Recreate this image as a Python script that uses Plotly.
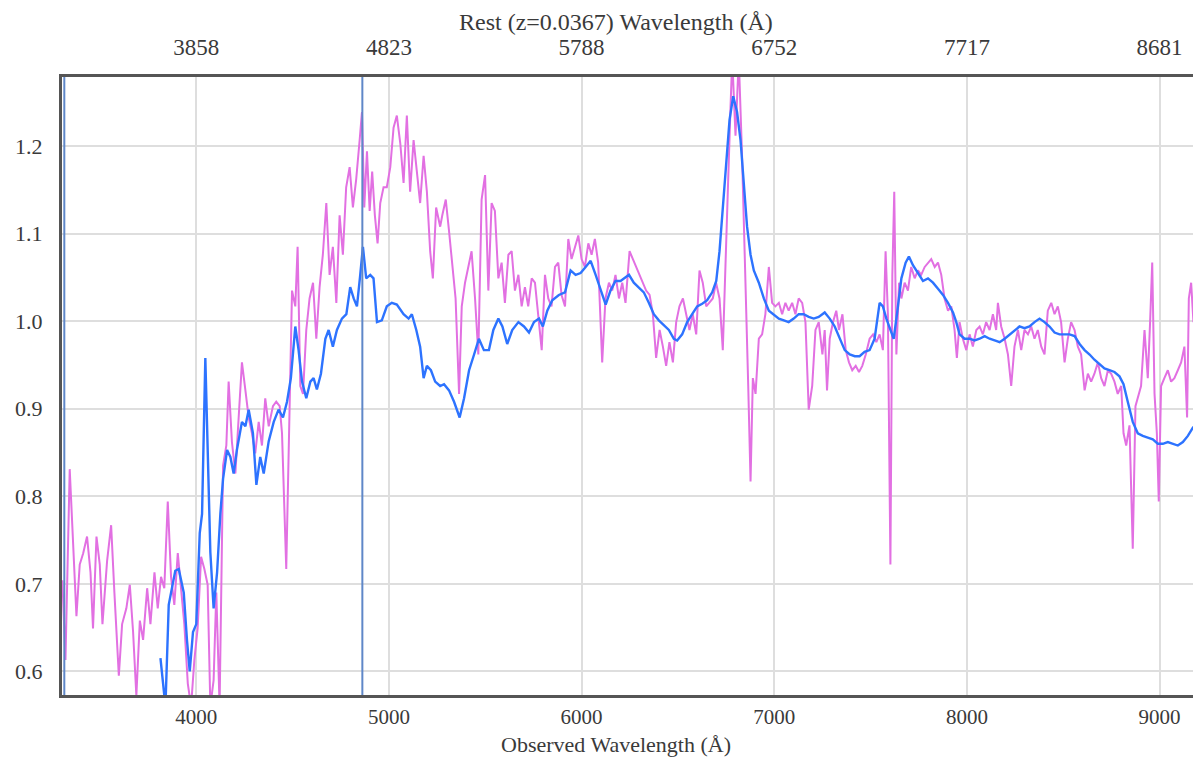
import plotly.graph_objects as go

# ---------------- data ----------------
redshift = 0.0367

obs_wave = [3305, 3321, 3343, 3361, 3378, 3395, 3413, 3433, 3451, 3464, 3482, 3499, 3513, 3537, 3558, 3575, 3598, 3615, 3637, 3655,
            3672, 3689, 3707, 3724, 3745, 3762, 3783, 3800, 3817, 3834, 3852, 3869, 3886, 3904, 3921, 3938, 3956, 3973, 3990, 4007,
            4025, 4042, 4059, 4073, 4090, 4104, 4121, 4139, 4156, 4168, 4185, 4203, 4220, 4237, 4255, 4272, 4289, 4306, 4324, 4341,
            4358, 4376, 4398, 4415, 4433, 4445, 4467, 4485, 4497, 4514, 4526, 4540, 4554, 4571, 4588, 4606, 4623, 4640, 4657, 4675,
            4692, 4709, 4727, 4744, 4761, 4778, 4796, 4813, 4830, 4848, 4860, 4872, 4886, 4900, 4913, 4927, 4941, 4955, 4972, 4989,
            5007, 5024, 5041, 5059, 5076, 5093, 5110, 5128, 5145, 5162, 5180, 5197, 5214, 5228, 5245, 5266,
            5277, 5295, 5312, 5329, 5346, 5364, 5378, 5395, 5412, 5429, 5447, 5464, 5481, 5499, 5516, 5533, 5550, 5568, 5585, 5602,
            5620, 5637, 5654, 5672, 5689, 5706, 5723, 5741, 5758, 5775, 5793, 5810, 5827, 5844, 5862, 5879, 5896, 5914, 5931, 5948,
            5965, 5983, 6000, 6017, 6035, 6052, 6069, 6086, 6107, 6124, 6142, 6159, 6176, 6194, 6211, 6228, 6249, 6266, 6284, 6301,
            6318, 6335, 6353, 6370, 6387, 6405, 6422, 6439, 6456, 6474, 6491, 6508, 6526, 6543, 6560, 6577, 6595, 6612, 6629, 6647,
            6664, 6681, 6698, 6716, 6733, 6747, 6761, 6773, 6782, 6799, 6816, 6833, 6851, 6865, 6877, 6889, 6903, 6920, 6937, 6954,
            6972, 6989, 7006, 7024, 7041, 7058, 7075, 7093, 7110, 7127, 7145, 7162, 7179, 7197, 7214, 7231,
            7250, 7262, 7274, 7288, 7305, 7322, 7336, 7354, 7371, 7388, 7405, 7423, 7440, 7457, 7475, 7495, 7513, 7530, 7547, 7564,
            7578, 7590, 7603, 7613, 7623, 7634, 7648, 7660, 7677, 7694, 7711, 7729, 7746, 7763, 7781, 7798, 7815, 7833, 7850, 7867,
            7884, 7902, 7919, 7936, 7948, 7962, 7979, 7997, 8014, 8031, 8049, 8066, 8083, 8100, 8118, 8135, 8152, 8161, 8178, 8196,
            8213, 8230, 8247, 8265, 8282, 8299, 8317, 8334, 8351, 8368, 8386, 8403, 8420, 8438, 8455, 8472, 8489, 8507, 8524, 8541,
            8559, 8576, 8593, 8611, 8628, 8645, 8662, 8680, 8697, 8714, 8732, 8749, 8766, 8783, 8801, 8813, 8827, 8844, 8861, 8875,
            8887, 8904, 8922, 8939, 8951, 8962, 8974, 8986, 8996, 9008, 9025, 9043, 9060, 9077, 9095, 9112, 9129, 9143, 9152, 9164,
            9176, 9190, 9207]

obs_flux = [0.704, 0.613, 0.831, 0.749, 0.663, 0.722, 0.735, 0.754, 0.713, 0.649, 0.754, 0.722, 0.654, 0.726, 0.767, 0.690, 0.595, 0.654, 0.672, 0.699,
            0.645, 0.572, 0.658, 0.636, 0.695, 0.654, 0.713, 0.672, 0.708, 0.695, 0.794, 0.708, 0.676, 0.735, 0.695, 0.654, 0.586, 0.560, 0.613, 0.649,
            0.731, 0.717, 0.699, 0.560, 0.590, 0.690, 0.560, 0.835, 0.858, 0.931, 0.862, 0.826, 0.890, 0.953, 0.921, 0.890, 0.872, 0.849, 0.885, 0.858,
            0.912, 0.880, 0.903, 0.908, 0.903, 0.872, 0.717, 0.894, 1.035, 1.017, 1.085, 0.926, 0.917, 0.990, 1.026, 1.044, 0.980, 1.039, 1.076, 1.135,
            1.053, 1.085, 1.021, 1.121, 1.076, 1.153, 1.176, 1.130, 1.162, 1.207, 1.239, 1.130, 1.194, 1.126, 1.171, 1.121, 1.089, 1.135, 1.153, 1.153,
            1.176, 1.221, 1.235, 1.203, 1.158, 1.235, 1.148, 1.207, 1.167, 1.135, 1.189, 1.148, 1.080, 1.049, 1.130, 1.108,
            1.121, 1.139, 1.103, 1.062, 1.026, 0.917, 1.017, 1.044, 1.062, 1.080, 1.026, 0.962, 1.139, 1.167, 1.035, 1.135, 1.126, 1.049, 1.067, 1.021,
            1.076, 1.080, 1.035, 1.053, 1.017, 1.039, 1.017, 1.049, 1.044, 1.008, 0.967, 1.053, 1.026, 1.017, 1.062, 1.067, 1.030, 1.017, 1.094, 1.071,
            1.085, 1.098, 1.071, 1.062, 1.089, 1.076, 1.094, 1.067, 0.953, 1.026, 1.044, 1.035, 1.053, 1.026, 1.044, 1.021, 1.080, 1.071, 1.062, 1.053,
            1.044, 1.035, 1.030, 1.008, 0.958, 0.990, 0.971, 0.949, 0.976, 0.953, 0.999, 1.017, 1.026, 1.008, 0.990, 1.008, 0.985, 1.058, 1.044, 1.017,
            1.021, 1.026, 1.044, 1.026, 0.967, 1.080, 1.162, 1.244, 1.300, 1.212, 1.300, 1.189, 1.053, 0.926, 0.817, 0.935, 0.917, 0.980, 0.985, 1.008,
            1.062, 1.021, 1.017, 1.021, 1.008, 1.021, 1.012, 1.021, 1.008, 1.026, 1.021, 0.999, 0.899, 0.926, 0.990, 0.999,
            0.962, 0.990, 0.921, 0.980, 0.999, 1.012, 0.990, 1.008, 0.967, 0.953, 0.944, 0.949, 0.942, 0.949, 0.962, 0.980, 0.985, 0.976, 0.985, 0.967,
            1.080, 1.008, 0.722, 1.053, 1.148, 0.962, 1.044, 1.026, 1.044, 1.035, 1.062, 1.049, 1.058, 1.053, 1.062, 1.067, 1.071, 1.062, 1.067, 1.053,
            1.026, 1.012, 1.017, 0.990, 0.958, 0.999, 0.980, 0.967, 0.985, 0.971, 0.990, 0.994, 0.985, 0.999, 0.990, 1.008, 0.990, 1.021, 0.994, 0.980,
            0.962, 0.926, 0.971, 0.990, 0.967, 0.990, 0.985, 0.994, 0.980, 0.990, 0.971, 0.962, 1.012, 1.021, 1.008, 1.017, 0.999, 0.953, 0.980, 0.999,
            0.990, 0.971, 0.962, 0.921, 0.940, 0.931, 0.940, 0.953, 0.935, 0.926, 0.944, 0.940, 0.931, 0.917, 0.926, 0.872, 0.858, 0.881, 0.740, 0.903,
            0.912, 0.926, 0.990, 0.935, 0.999, 1.067, 0.917, 0.872, 0.794, 0.926, 0.935, 0.944, 0.931, 0.935, 0.944, 0.953, 0.971, 0.890, 1.026, 1.044,
            0.999, 1.026, 0.990]

model_wave = [3814, 3840, 3857, 3891, 3909, 3935, 3952, 3966, 3983, 4000, 4018, 4030, 4047, 4056, 4073, 4090, 4108, 4125, 4139, 4160,
              4177, 4194, 4211, 4237, 4255, 4272, 4294, 4312, 4332, 4350, 4376, 4402, 4427, 4450, 4471, 4491, 4514, 4531, 4549, 4571,
              4592, 4609, 4626, 4647, 4670, 4687, 4709, 4730, 4756, 4779, 4799, 4817, 4834, 4851, 4865, 4882, 4903, 4920, 4938, 4963,
              4989, 5015, 5041, 5076, 5102, 5119, 5142, 5162, 5180, 5197, 5218, 5240, 5266,
              5286, 5312, 5338, 5367, 5390, 5416, 5442, 5467, 5493, 5519, 5542, 5568, 5589, 5614, 5640, 5672, 5701, 5727, 5753, 5779,
              5799, 5822, 5848, 5882, 5914, 5943, 5969, 5995, 6021, 6047, 6073, 6099, 6125, 6150, 6176, 6202, 6220, 6246, 6271, 6297,
              6323, 6349, 6375, 6401, 6427, 6453, 6479, 6496, 6522, 6548, 6574, 6600, 6626, 6652, 6678, 6699, 6716, 6733, 6750, 6768,
              6787, 6807, 6825, 6842, 6859, 6877, 6894, 6920, 6946, 6972, 6998, 7024, 7050, 7075, 7101, 7127, 7153, 7179, 7205, 7231,
              7262, 7288, 7314, 7340, 7366, 7392, 7418, 7443, 7469, 7495, 7521, 7547, 7564, 7582, 7603, 7620, 7637, 7660, 7682, 7699,
              7720, 7746, 7772, 7798, 7824, 7850, 7876, 7902, 7928, 7945, 7962, 7988, 8014, 8040, 8066, 8092, 8118, 8144, 8170, 8196,
              8222, 8247, 8273, 8299, 8325, 8351, 8377, 8403, 8429, 8455, 8481, 8507, 8533, 8559, 8585, 8611, 8637, 8662, 8688, 8714,
              8740, 8766, 8792, 8813, 8835, 8861, 8887, 8913, 8939, 8965, 8991, 9017, 9043, 9069, 9095, 9121, 9147, 9172, 9207]

model_flux = [0.615, 0.560, 0.676, 0.715, 0.717, 0.690, 0.635, 0.600, 0.645, 0.654, 0.758, 0.780, 0.958, 0.870, 0.736, 0.672, 0.713, 0.780, 0.820, 0.853,
              0.845, 0.826, 0.853, 0.885, 0.880, 0.899, 0.872, 0.813, 0.845, 0.826, 0.863, 0.885, 0.899, 0.890, 0.908, 0.935, 0.994, 0.967, 0.931, 0.912,
              0.931, 0.935, 0.922, 0.940, 0.980, 0.990, 0.971, 0.990, 1.003, 1.008, 1.039, 1.026, 1.017, 1.053, 1.085, 1.049, 1.053, 1.049, 0.999, 1.001,
              1.017, 1.021, 1.019, 1.008, 1.003, 1.008, 0.990, 0.971, 0.935, 0.949, 0.944, 0.931, 0.926,
              0.928, 0.921, 0.908, 0.890, 0.912, 0.944, 0.962, 0.980, 0.967, 0.967, 0.990, 1.003, 0.994, 0.974, 0.990, 0.999, 0.994, 0.987, 0.999, 1.003,
              0.994, 1.012, 1.024, 1.030, 1.033, 1.058, 1.053, 1.055, 1.062, 1.069, 1.053, 1.035, 1.019, 1.035, 1.046, 1.046, 1.049, 1.053, 1.044, 1.039,
              1.033, 1.021, 1.008, 1.001, 0.996, 0.990, 0.980, 0.978, 0.985, 0.999, 1.008, 1.017, 1.020, 1.024, 1.033, 1.046, 1.080, 1.126, 1.180, 1.230,
              1.257, 1.239, 1.207, 1.153, 1.108, 1.076, 1.058, 1.044, 1.026, 1.012, 1.008, 1.003, 1.001, 0.999, 1.003, 1.008, 1.008, 1.005, 1.003, 1.005,
              1.010, 1.003, 0.994, 0.980, 0.967, 0.962, 0.960, 0.960, 0.965, 0.967, 0.980, 1.021, 1.017, 1.003, 0.990, 0.980, 1.008, 1.049, 1.067, 1.074,
              1.064, 1.055, 1.046, 1.049, 1.044, 1.037, 1.030, 1.021, 1.010, 0.999, 0.985, 0.980, 0.980, 0.978, 0.980, 0.983, 0.980, 0.978, 0.976, 0.980,
              0.985, 0.990, 0.994, 0.992, 0.994, 0.999, 1.003, 0.999, 0.994, 0.987, 0.985, 0.985, 0.985, 0.983, 0.974, 0.967, 0.962, 0.956, 0.951, 0.946,
              0.944, 0.942, 0.937, 0.928, 0.908, 0.885, 0.872, 0.869, 0.867, 0.865, 0.860, 0.860, 0.862, 0.860, 0.858, 0.862, 0.869, 0.878, 0.887]

marker_waves = [3315, 4862]

obs_ticks = [4000, 5000, 6000, 7000, 8000, 9000]
rest_tick_labels = [f"{t / (1 + redshift):.0f}" for t in obs_ticks]
y_ticks = [0.6, 0.7, 0.8, 0.9, 1.0, 1.1, 1.2]

x_range = [3303, 9210]
y_range = [0.573, 1.279]

top_title = "Rest (z=0.0367) Wavelength (Å)"
bottom_title = "Observed Wavelength (Å)"

# ---------------- figure ----------------
FONT = "Liberation Serif"
TXT = "#3a3a3a"
TICK_SIZE = 22
XTICK_SIZE = 21
TITLE_SIZE = 23
fig = go.Figure()

fig.add_trace(go.Scatter(x=obs_wave, y=obs_flux, mode="lines",
                         line=dict(color="rgb(226,112,226)", width=2), showlegend=False))
fig.add_trace(go.Scatter(x=model_wave, y=model_flux, mode="lines",
                         line=dict(color="rgb(45,115,255)", width=2.4), showlegend=False))
# invisible trace to activate top axis
fig.add_trace(go.Scatter(x=x_range, y=[None, None], xaxis="x2", mode="lines", showlegend=False))

for w in marker_waves:
    fig.add_shape(type="line", x0=w, x1=w, y0=0, y1=1, xref="x", yref="paper",
                  line=dict(color="rgb(95,135,200)", width=2))

def axis_style(size=TICK_SIZE, **kw):
    d = dict(showgrid=True, gridcolor="rgb(222,222,222)", gridwidth=1.5, zeroline=False,
             showline=True, linecolor="rgb(85,85,85)", linewidth=3, automargin=False,
             tickfont=dict(family=FONT, size=size, color=TXT), ticks="")
    d.update(kw)
    return d

fig.add_annotation(text=top_title, xref="paper", yref="paper", x=0.487, y=1.089,
                   xanchor="center", yanchor="middle", showarrow=False,
                   font=dict(family=FONT, size=TITLE_SIZE + 1, color=TXT))
fig.add_annotation(text=bottom_title, xref="paper", yref="paper", x=0.487, y=-0.080,
                   xanchor="center", yanchor="middle", showarrow=False,
                   font=dict(family=FONT, size=TITLE_SIZE - 1, color=TXT))

# page body has an 8px margin: size the figure so it fits the 1201x759 window
fig.update_layout(
    width=1193, height=751,
    margin=dict(l=54, r=1, t=69, b=64),
    paper_bgcolor="white", plot_bgcolor="white",
    font=dict(family=FONT, size=TICK_SIZE, color=TXT),
    xaxis=axis_style(size=XTICK_SIZE, range=x_range, tickvals=obs_ticks, ticklabelstandoff=1, mirror=True),
    xaxis2=axis_style(size=TICK_SIZE + 1, range=x_range, overlaying="x", side="top", tickvals=obs_ticks,
                      ticktext=rest_tick_labels, ticklabelstandoff=10, showgrid=False),
    yaxis=axis_style(range=y_range, tickvals=y_ticks, tickformat=".1f", ticklabelstandoff=12, mirror=True),
)

fig.write_html("out.html")
